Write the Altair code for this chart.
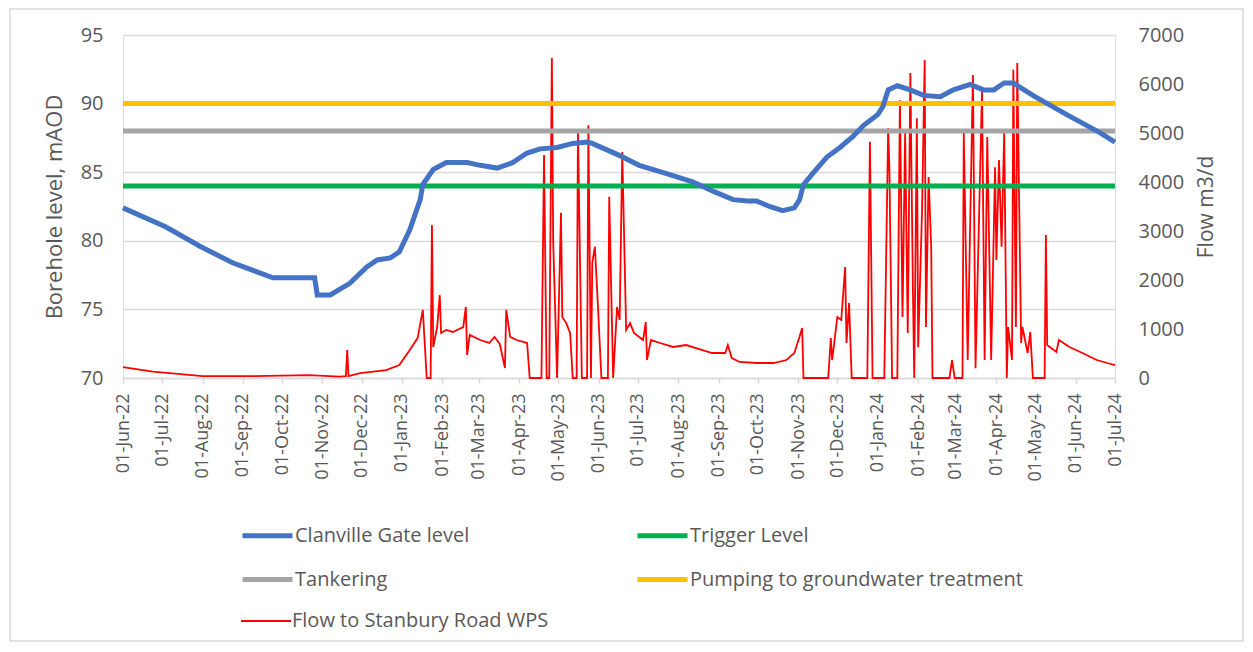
import altair as alt
import pandas as pd

# ---------------- data ----------------
level_dates = ["2022-06-01","2022-07-04","2022-07-30","2022-08-24","2022-09-24","2022-10-26","2022-10-28",
               "2022-11-07","2022-11-22","2022-12-05","2022-12-13","2022-12-23","2022-12-30","2023-01-07",
               "2023-01-15","2023-01-17","2023-01-25","2023-02-04","2023-02-20","2023-03-02","2023-03-15",
               "2023-03-27","2023-04-07","2023-04-17","2023-04-30","2023-05-12","2023-05-23","2023-05-27",
               "2023-06-15","2023-07-02","2023-07-23","2023-08-12","2023-08-28","2023-09-12","2023-09-23",
               "2023-09-30","2023-10-10","2023-10-20","2023-10-29","2023-11-02","2023-11-05","2023-11-12",
               "2023-11-23","2023-12-03","2023-12-13","2023-12-21","2024-01-01","2024-01-05","2024-01-09",
               "2024-01-16","2024-01-26","2024-02-05","2024-02-18","2024-02-28","2024-03-12","2024-03-22",
               "2024-03-30","2024-04-07","2024-04-14","2024-04-29","2024-05-25","2024-06-19","2024-07-01"]
level_values = [82.4,81.0,79.6,78.4,77.3,77.3,76.05,
                76.05,76.9,78.1,78.6,78.75,79.2,80.8,
                83.0,84.1,85.2,85.7,85.7,85.5,85.3,
                85.7,86.4,86.7,86.8,87.1,87.2,87.1,
                86.3,85.5,84.9,84.3,83.6,83.0,82.9,
                82.9,82.5,82.2,82.4,83.0,84.1,84.9,
                86.1,86.8,87.6,88.4,89.2,89.8,91.0,
                91.3,91.0,90.6,90.5,91.0,91.4,91.0,
                91.0,91.5,91.5,90.6,89.2,87.9,87.2]

flow_dates = ["2022-06-01","2022-06-24","2022-08-01","2022-09-09","2022-10-22","2022-11-14","2022-11-19",
              "2022-11-20","2022-11-21","2022-11-30","2022-12-20","2022-12-30","2023-01-07","2023-01-13",
              "2023-01-17","2023-01-20","2023-01-23","2023-01-24","2023-01-25","2023-01-28","2023-01-30",
              "2023-01-31","2023-02-04","2023-02-09","2023-02-17","2023-02-19","2023-02-20","2023-02-22",
              "2023-03-02","2023-03-09","2023-03-13","2023-03-17","2023-03-21","2023-03-22","2023-03-25",
              "2023-03-30","2023-04-07","2023-04-09","2023-04-18","2023-04-20","2023-04-22","2023-04-24",
              "2023-04-26","2023-04-27","2023-04-30","2023-05-03","2023-05-04","2023-05-07","2023-05-10",
              "2023-05-12","2023-05-15","2023-05-16","2023-05-19","2023-05-23","2023-05-24","2023-05-26",
              "2023-05-27","2023-05-29","2023-05-31","2023-06-03","2023-06-08","2023-06-09","2023-06-12",
              "2023-06-15","2023-06-17","2023-06-19","2023-06-22","2023-06-25","2023-06-28","2023-07-05",
              "2023-07-07","2023-07-08","2023-07-11","2023-07-18","2023-07-28","2023-08-07","2023-08-17",
              "2023-08-27","2023-09-06","2023-09-08","2023-09-11","2023-09-17","2023-09-30","2023-10-13",
              "2023-10-23","2023-10-29","2023-11-02","2023-11-04","2023-11-05","2023-11-24","2023-11-26",
              "2023-11-27","2023-12-01","2023-12-04","2023-12-07","2023-12-08","2023-12-10","2023-12-12",
              "2023-12-24","2023-12-26","2023-12-28","2024-01-06","2024-01-09","2024-01-10","2024-01-12",
              "2024-01-16","2024-01-18","2024-01-20","2024-01-22","2024-01-24","2024-01-26","2024-01-28",
              "2024-01-29","2024-01-31","2024-02-01","2024-02-04","2024-02-06","2024-02-07","2024-02-09",
              "2024-02-11","2024-02-12","2024-02-25","2024-02-27","2024-02-29","2024-03-06","2024-03-07",
              "2024-03-10","2024-03-14","2024-03-16","2024-03-21","2024-03-23","2024-03-25","2024-03-28",
              "2024-03-31","2024-04-01","2024-04-03","2024-04-05","2024-04-07","2024-04-09","2024-04-10",
              "2024-04-13","2024-04-14","2024-04-16","2024-04-17","2024-04-20","2024-04-21","2024-04-25",
              "2024-04-27","2024-04-29","2024-05-08","2024-05-09","2024-05-10","2024-05-17","2024-05-19",
              "2024-05-27","2024-06-06","2024-06-17","2024-06-25","2024-07-01"]
flow_values = [220,130,40,40,60,30,40,
               570,40,100,160,265,570,815,
               1390,0,0,3120,630,1040,1690,
               920,980,940,1040,1450,470,880,
               775,715,840,694,204,1390,840,
               775,714,0,0,4550,0,0,
               6530,2815,0,3370,1245,1120,920,
               0,0,5060,0,0,5160,0,
               2350,2680,1650,0,0,3700,0,
               1450,1185,4610,980,1120,920,775,
               1140,370,775,714,633,673,590,
               510,510,673,408,327,306,306,
               367,510,840,1020,0,0,816,
               367,1245,1184,2266,714,1530,0,
               0,4820,0,0,5100,4180,0,
               0,5670,1245,5000,920,6225,1735,
               0,5300,630,3430,6490,1040,4100,
               2680,0,0,367,0,0,5000,
               367,6185,200,5880,367,4920,367,
               4300,2410,4450,2680,5020,0,1040,
               367,6290,1040,6430,714,1040,510,
               940,0,0,2920,673,530,775,
               633,510,367,306,265]

start_date, end_date = "2022-06-01", "2024-07-01"
threshold_names = ["Trigger Level", "Tankering", "Pumping to groundwater treatment"]
threshold_levels = [84, 88, 90]

level_series = ["Clanville Gate level", "Trigger Level", "Tankering",
                "Pumping to groundwater treatment"]
level_colors = ["#4472C4", "#00B050", "#A5A5A5", "#FFC000"]
flow_series = ["Flow to Stanbury Road WPS"]
flow_colors = ["#FF0000"]

left_ticks = [70, 75, 80, 85, 90, 95]
right_ticks = [0, 1000, 2000, 3000, 4000, 5000, 6000, 7000]

# ---------------- tables ----------------
level_df = pd.DataFrame({"date": level_dates, "value": level_values,
                         "series": "Clanville Gate level"})
flow_df = pd.DataFrame({"date": flow_dates, "flow": flow_values,
                        "series": "Flow to Stanbury Road WPS"})
thr_rows = []
for n, v in zip(threshold_names, threshold_levels):
    thr_rows.append({"date": start_date, "value": v, "series": n})
    thr_rows.append({"date": end_date, "value": v, "series": n})
thr_df = pd.DataFrame(thr_rows)

def ms(d):
    return int(pd.Timestamp(d, tz="UTC").value // 10**6)

month_ticks = [ms(t) for t in pd.date_range(start_date, end_date, freq="MS")]

FONT = "Open Sans"
GREY = "#595959"
GRID = "#D9D9D9"

x_enc = alt.X("date:T",
              scale=alt.Scale(type="utc", domain=[ms(start_date), ms(end_date)], nice=False),
              axis=alt.Axis(values=month_ticks, format="%d-%b-%y", labelAngle=270,
                            labelColor=GREY, labelFontSize=18, labelFont=FONT,
                            labelPadding=10, labelOverlap=False, labelFlush=False,
                            tickColor=GRID, tickSize=5, tickWidth=1.5,
                            domainColor=GRID, domainWidth=1.5, grid=False, title=None))

legend_common = dict(
    title=None, orient="none", legendX=117, direction="horizontal",
    columns=2, columnPadding=157, rowPadding=6,
    symbolType="stroke", symbolSize=2500,
    labelFont=FONT, labelFontSize=20, labelColor=GREY,
    labelOffset=0, labelLimit=500)

level_color = alt.Color("series:N",
                        scale=alt.Scale(domain=level_series, range=level_colors),
                        legend=alt.Legend(legendY=473, symbolStrokeWidth=5, **legend_common))
flow_color = alt.Color("series:N",
                       scale=alt.Scale(domain=flow_series, range=flow_colors),
                       legend=alt.Legend(legendY=560, symbolStrokeWidth=2, **legend_common))

left_axis = alt.Axis(orient="left", values=left_ticks, grid=True, gridColor=GRID, gridWidth=1.5,
                     domain=False, ticks=False, labelPadding=20, labelFontSize=20, labelFont=FONT,
                     labelColor=GREY, title="Borehole level, mAOD", titleFont=FONT,
                     titleFontSize=22, titleColor=GREY, titleFontWeight="normal", titlePadding=14)
y_left = alt.Y("value:Q", scale=alt.Scale(domain=[70, 95], nice=False, zero=False), axis=left_axis)

flow_layer = alt.Chart(flow_df).mark_line(strokeWidth=1.8, interpolate="linear").encode(
    x=x_enc,
    y=alt.Y("flow:Q", scale=alt.Scale(domain=[0, 7000], nice=False),
            axis=alt.Axis(orient="right", values=right_ticks, format="d", grid=False,
                          domain=False, ticks=False,
                          labelPadding=23, labelFontSize=20, labelFont=FONT, labelColor=GREY,
                          title="Flow m3/d", titleFont=FONT, titleFontSize=21, titleColor=GREY,
                          titleFontWeight="normal", titleAngle=270, titleBaseline="top",
                          titlePadding=12)),
    color=flow_color,
)

thr_layer = alt.Chart(thr_df).mark_line(strokeWidth=5).encode(
    x=x_enc, y=y_left, color=level_color)
level_layer = alt.Chart(level_df).mark_line(strokeWidth=5).encode(
    x=x_enc, y=y_left, color=level_color)

frame = alt.Chart(pd.DataFrame({"k": [0]})).mark_rect(
    fillOpacity=0, stroke=GRID, strokeWidth=1.5).encode(
    x=alt.value(-113), x2=alt.value(1120), y=alt.value(-26), y2=alt.value(606))

left_group = alt.layer(thr_layer, level_layer)

chart = alt.layer(flow_layer, left_group, frame).resolve_scale(
    y="independent", color="independent").properties(
    width=992, height=343,
    autosize=alt.AutoSizeParams(type="none"),
    padding={"left": 115, "top": 27, "right": 130, "bottom": 265},
).configure_view(stroke="transparent").configure(background="white")

chart.save("out.html", embed_options={"renderer": "svg", "actions": False})
